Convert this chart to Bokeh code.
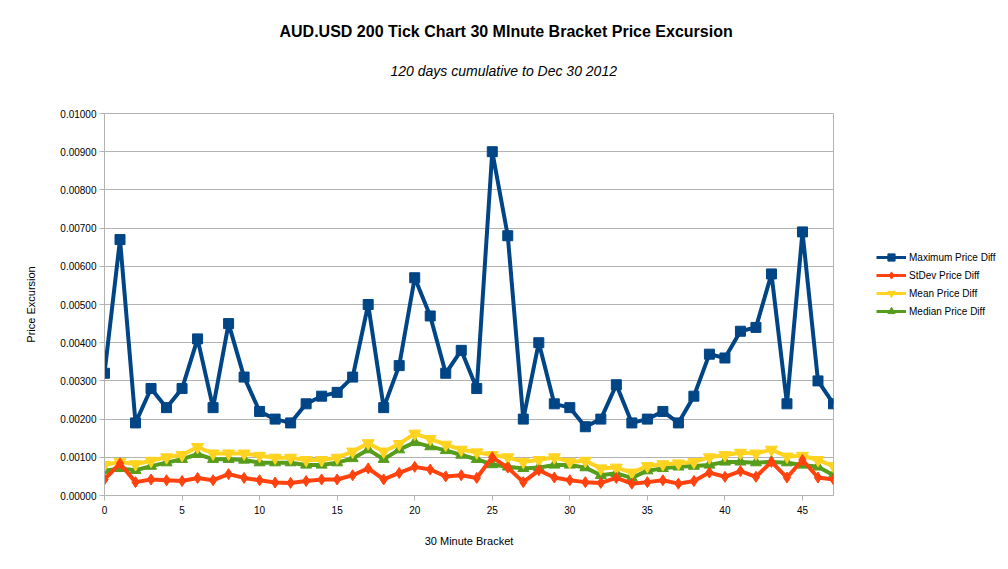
from bokeh.plotting import figure
from bokeh.layouts import row
from bokeh.models import Title, Legend, LegendItem, NumeralTickFormatter, FixedTicker
from bokeh.embed import file_html
from bokeh.resources import INLINE

brackets = list(range(48))
max_diff = [0.0032, 0.0067, 0.0019, 0.0028, 0.0023, 0.0028, 0.0041, 0.0023, 0.0045, 0.0031,
            0.0022, 0.0020, 0.0019, 0.0024, 0.0026, 0.0027, 0.0031, 0.0050, 0.0023, 0.0034,
            0.0057, 0.0047, 0.0032, 0.0038, 0.0028, 0.0090, 0.0068, 0.0020, 0.0040, 0.0024,
            0.0023, 0.0018, 0.0020, 0.0029, 0.0019, 0.0020, 0.0022, 0.0019, 0.0026, 0.0037,
            0.0036, 0.0043, 0.0044, 0.0058, 0.0024, 0.0069, 0.0030, 0.0024]
stdev_diff = [0.00042, 0.00084, 0.00035, 0.00042, 0.00040, 0.00038, 0.00046, 0.00040, 0.00056, 0.00046,
              0.00040, 0.00034, 0.00033, 0.00038, 0.00042, 0.00042, 0.00053, 0.00071, 0.00042, 0.00059,
              0.00075, 0.00068, 0.00050, 0.00053, 0.00046, 0.00100, 0.00073, 0.00035, 0.00066, 0.00047,
              0.00040, 0.00035, 0.00033, 0.00046, 0.00031, 0.00035, 0.00040, 0.00031, 0.00038, 0.00060,
              0.00049, 0.00064, 0.00049, 0.00088, 0.00047, 0.00093, 0.00047, 0.00042]
mean_diff = [0.00080, 0.00088, 0.00082, 0.00091, 0.00100, 0.00106, 0.00127, 0.00110, 0.00110, 0.00110,
             0.00104, 0.00099, 0.00099, 0.00093, 0.00093, 0.00099, 0.00115, 0.00137, 0.00115, 0.00135,
             0.00162, 0.00148, 0.00133, 0.00120, 0.00113, 0.00106, 0.00100, 0.00088, 0.00093, 0.00100,
             0.00088, 0.00091, 0.00071, 0.00073, 0.00060, 0.00077, 0.00082, 0.00084, 0.00088, 0.00100,
             0.00106, 0.00112, 0.00110, 0.00120, 0.00102, 0.00104, 0.00093, 0.00077]
median_diff = [0.00065, 0.00071, 0.00066, 0.00077, 0.00086, 0.00095, 0.00108, 0.00095, 0.00095, 0.00093,
               0.00086, 0.00086, 0.00086, 0.00080, 0.00080, 0.00086, 0.00097, 0.00120, 0.00095, 0.00120,
               0.00139, 0.00128, 0.00118, 0.00106, 0.00095, 0.00081, 0.00075, 0.00071, 0.00073, 0.00080,
               0.00080, 0.00073, 0.00053, 0.00058, 0.00046, 0.00065, 0.00071, 0.00075, 0.00077, 0.00080,
               0.00088, 0.00088, 0.00086, 0.00088, 0.00086, 0.00080, 0.00075, 0.00053]

FONT = "Liberation Sans"
GRID = "#b3b3b3"

p = figure(width=834, height=561, x_range=(0, 47), y_range=(0, 0.01),
           output_backend="svg", toolbar_location=None,
           min_border_left=104, min_border_right=1, min_border_top=113, min_border_bottom=66)
p.background_fill_color = "white"
p.border_fill_color = "white"
p.outline_line_color = GRID

# spacer between frame and subtitle
p.add_layout(Title(text=" ", text_font=FONT, text_font_size="1px", standoff=10), "above")
p.add_layout(Title(text="120 days cumulative to Dec 30 2012", text_font=FONT,
                   text_font_size="14px", text_font_style="italic", align="left", offset=286,
                   text_color="#000000", standoff=43), "above")
p.add_layout(Title(text="AUD.USD 200 Tick Chart 30 MInute Bracket Price Excursion", text_font=FONT,
                   text_font_size="16px", text_font_style="bold", align="left", offset=175,
                   text_color="#000000", standoff=0), "above")

p.xgrid.visible = False
p.ygrid.grid_line_color = GRID
p.ygrid.grid_line_width = 1

p.xaxis.ticker = FixedTicker(ticks=[0, 5, 10, 15, 20, 25, 30, 35, 40, 45])
p.yaxis.ticker = FixedTicker(ticks=[i * 0.001 for i in range(11)])
p.yaxis.formatter = NumeralTickFormatter(format="0.00000")
for ax in (p.xaxis, p.yaxis):
    ax.axis_line_color = GRID
    ax.major_tick_line_color = GRID
    ax.major_tick_out = 5
    ax.major_tick_in = 0
    ax.minor_tick_line_color = None
    ax.major_label_text_font = FONT
    ax.major_label_text_font_size = "10px"
    ax.major_label_text_color = "#000000"
    ax.axis_label_text_font = FONT
    ax.axis_label_text_font_size = "11px"
    ax.axis_label_text_font_style = "normal"
    ax.axis_label_text_color = "#000000"
p.yaxis.axis_label = "Price Excursion"
p.xaxis.axis_label = "30 Minute Bracket"
p.yaxis.major_label_standoff = 3
p.yaxis.axis_label_standoff = 20
p.xaxis.major_label_standoff = 5
p.xaxis.axis_label_standoff = 18

series = [
    ("Maximum Price Diff", max_diff, "#004586", "square", 10),
    ("StDev Price Diff", stdev_diff, "#ff420e", "diamond", 11),
    ("Mean Price Diff", mean_diff, "#ffd320", "inverted_triangle", 12),
    ("Median Price Diff", median_diff, "#579d1c", "triangle", 11),
]
for name, vals, color, marker, size in reversed(series):
    p.line(brackets, vals, line_color=color, line_width=4)
    p.scatter(brackets, vals, marker=marker, size=size, fill_color=color, line_color=color)

# legend panel to the right of the plot; its series lie outside its visible range
lg = figure(width=166, height=561, output_backend="svg", toolbar_location=None,
            x_range=(0, 47), y_range=(1, 2),
            x_axis_location=None, y_axis_location=None,
            min_border_left=0, min_border_right=0, min_border_top=0, min_border_bottom=0)
lg.outline_line_color = None
lg.grid.visible = False
lg.border_fill_color = "white"
lg.background_fill_color = "white"
legend_items = []
for name, vals, color, marker, size in series:
    l = lg.line(brackets, vals, line_color=color, line_width=3)
    s = lg.scatter(brackets, vals, marker=marker, size=size * 0.8, fill_color=color, line_color=color)
    legend_items.append(LegendItem(label=name, renderers=[l, s]))

legend = Legend(items=legend_items, location=(42, 175), orientation="vertical",
                label_text_font=FONT, label_text_font_size="10px", label_text_color="#000000",
                border_line_color=None, background_fill_alpha=0, padding=0, margin=0,
                spacing=0, label_height=18, glyph_height=18, glyph_width=30, label_standoff=3)
lg.add_layout(legend, "center")

layout = row(p, lg, spacing=0)
open("out.html", "w").write(file_html(layout, INLINE))
